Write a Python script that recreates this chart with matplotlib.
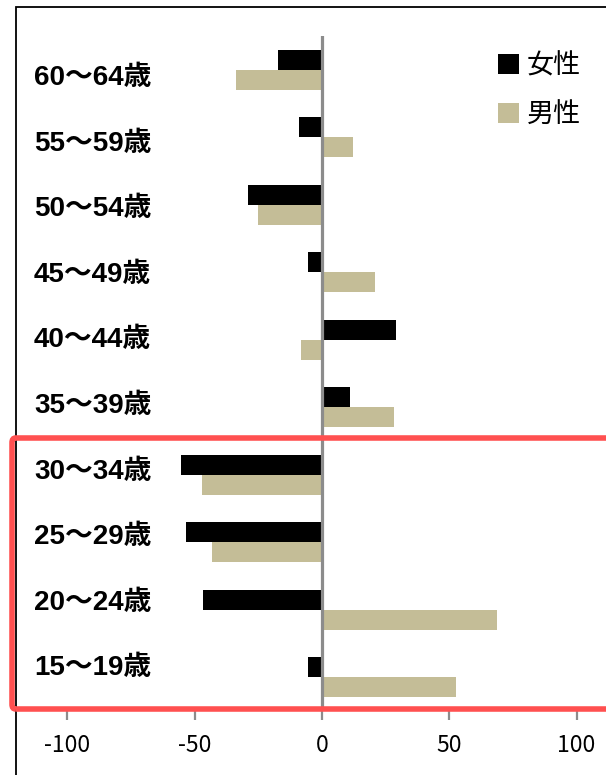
import numpy as np
import matplotlib.pyplot as plt
from matplotlib.patches import FancyBboxPatch, Rectangle

# age groups, bottom to top
ages = ['15～19歳', '20～24歳', '25～29歳', '30～34歳', '35～39歳',
        '40～44歳', '45～49歳', '50～54歳', '55～59歳', '60～64歳']
female = [-5.6, -46.6, -53.3, -55.3, 10.9, 28.9, -5.6, -29.1, -9.0, -17.2]
male = [52.8, 68.8, -43.3, -47.0, 28.2, -8.3, 20.8, -25.2, 12.2, -33.6]
xticks = [-100, -50, 0, 50, 100]

W, H = 606, 775
fig = plt.figure(figsize=(W / 100, H / 100), dpi=100)

# axes placed in pixel terms
ax_l, ax_r, ax_t, ax_b = 30, 600, 36, 711
ax = fig.add_axes([ax_l / W, 1 - ax_b / H, (ax_r - ax_l) / W, (ax_b - ax_t) / H])
px_per_unit = 2.546
zero_px = 322
ax.set_xlim((ax_l - zero_px) / px_per_unit, (ax_r - zero_px) / px_per_unit)
ax.set_ylim(-0.5, len(ages) - 0.5)

y = np.arange(len(ages))
bh = 0.296
f_bars = ax.barh(y + bh / 2, female, height=bh, color='black', label='女性', zorder=3)
m_bars = ax.barh(y - bh / 2, male, height=bh, color='#C4BD97', label='男性', zorder=3)
ax.axvline(0, color='#8c8c8c', lw=2.3, zorder=4)

for s in ax.spines.values():
    s.set_visible(False)
ax.set_yticks([])
ax.set_xticks(xticks)
ax.set_xticklabels([str(t) for t in xticks], fontsize=16.5, family=['Noto Sans CJK JP', 'DejaVu Sans'])
ax.tick_params(axis='x', length=6.5, width=1.6, color='#8c8c8c', pad=10)

# age labels down the left side
for i, lab in enumerate(ages[::-1]):
    ypx = 78 + i * 65.6
    fig.text(34 / W, 1 - ypx / H, lab, ha='left', va='center', fontsize=20,
             fontweight='bold', family=['Liberation Sans', 'Noto Sans CJK JP'])

leg = ax.legend(handles=[f_bars, m_bars], loc='upper right',
                bbox_to_anchor=(592 / W, 1 - 42 / H), bbox_transform=fig.transFigure,
                frameon=False, handlelength=0.75, handleheight=0.75, handletextpad=0.3,
                labelspacing=0.8, borderaxespad=0,
                prop={'family': ['Noto Sans CJK JP'], 'size': 19.5})

# outer frame
fig.patches.append(Rectangle((16 / W, -0.1), 1.2, 1 - 7 / H + 0.1, transform=fig.transFigure,
                             fill=False, edgecolor='black', lw=1.3))
# highlight box around the youngest groups
fig.patches.append(FancyBboxPatch((12 / W, 1 - 709 / H), 1.0, (709 - 438) / H,
                                  boxstyle='round,pad=0,rounding_size=0.006',
                                  transform=fig.transFigure, fill=False,
                                  edgecolor='#FF5050', lw=4, zorder=10))

fig.savefig('out.png', dpi=100)
